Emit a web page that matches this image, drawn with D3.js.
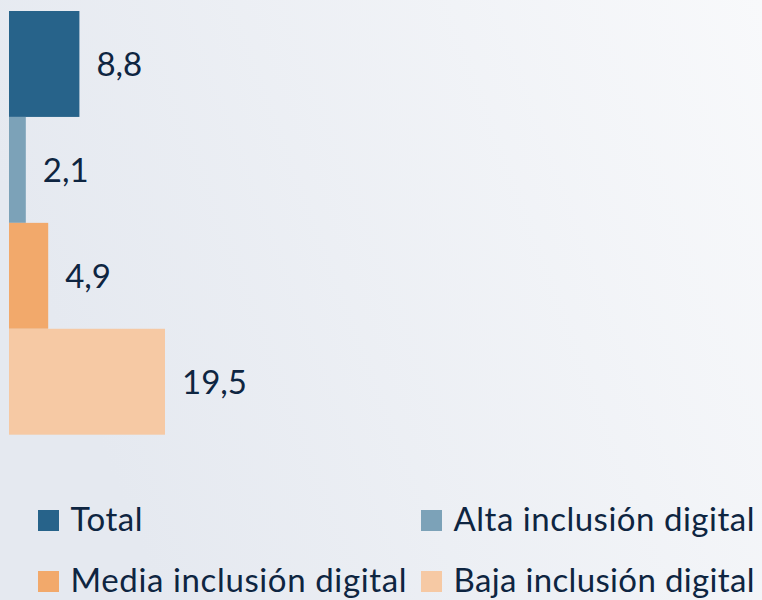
<!DOCTYPE html>
<html>
<head>
<meta charset="utf-8">
<script src="https://cdn.jsdelivr.net/npm/d3@7"></script>
<style>
  html, body { margin: 0; padding: 0; overflow: hidden; }
  svg { display: block; }
</style>
</head>
<body>
<svg id="chart" width="762" height="600"></svg>
<script>
const categories = ["Total", "Alta inclusión digital", "Media inclusión digital", "Baja inclusión digital"];
const values = [8.8, 2.1, 4.9, 19.5];
const colors = ["#27638a", "#7ca2b8", "#f2a96b", "#f6c9a4"];

const W = 762, H = 600;
const svg = d3.select("#chart");
const defs = svg.append("defs");
const grad = defs.append("linearGradient").attr("id", "bg")
  .attr("x1", 0).attr("y1", 0.3).attr("x2", 1).attr("y2", 0);
grad.append("stop").attr("offset", 0).attr("stop-color", "#e5e9f0");
grad.append("stop").attr("offset", 1).attr("stop-color", "#f8f9fb");
svg.append("rect").attr("width", W).attr("height", H).attr("fill", "url(#bg)");

const color = d3.scaleOrdinal(categories, colors);
const x = d3.scaleLinear().domain([0, 19.5]).range([9, 165]);
const y = d3.scaleBand().domain(categories).range([11, 434.7]).padding(0);
const fmt = d3.formatLocale({decimal: ",", thousands: ".", grouping: [3], currency: ["", ""]}).format(".1f");

const textColor = "#0e2541";
const font = "Lato, 'Open Sans', sans-serif";

const data = categories.map((c, i) => ({c, v: values[i]}));

svg.selectAll("rect.bar").data(data).join("rect")
  .attr("class", "bar")
  .attr("x", x(0))
  .attr("y", d => y(d.c))
  .attr("width", d => x(d.v) - x(0))
  .attr("height", y.bandwidth())
  .attr("fill", d => color(d.c));

svg.selectAll("text.lbl").data(data).join("text")
  .attr("class", "lbl")
  .attr("x", d => x(d.v) + 17)
  .attr("y", d => y(d.c) + y.bandwidth() / 2 + 12.5)
  .attr("font-family", font)
  .attr("font-size", 33)
  .attr("fill", textColor)
  .text(d => fmt(d.v));

// legend
const colX = [38, 421];
const rowY = [531, 592];
const targetW = [72, 301, 336, 301];
const leg = svg.selectAll("g.leg").data(categories).join("g")
  .attr("class", "leg")
  .attr("transform", (d, i) => `translate(${colX[i % 2]},${rowY[Math.floor(i / 2)]})`);
leg.append("rect")
  .attr("x", 0).attr("y", -21)
  .attr("width", 21).attr("height", 21)
  .attr("fill", d => color(d));
leg.append("text")
  .attr("x", 32.5).attr("y", 0)
  .attr("font-family", font)
  .attr("font-size", 33)
  .attr("fill", textColor)
  .text(d => d)
  .each(function(d, i) {
    const w = this.getComputedTextLength();
    if (Math.abs(w - targetW[i]) > 2) {
      d3.select(this).attr("textLength", targetW[i]).attr("lengthAdjust", "spacing");
    }
  });
</script>
</body>
</html>
